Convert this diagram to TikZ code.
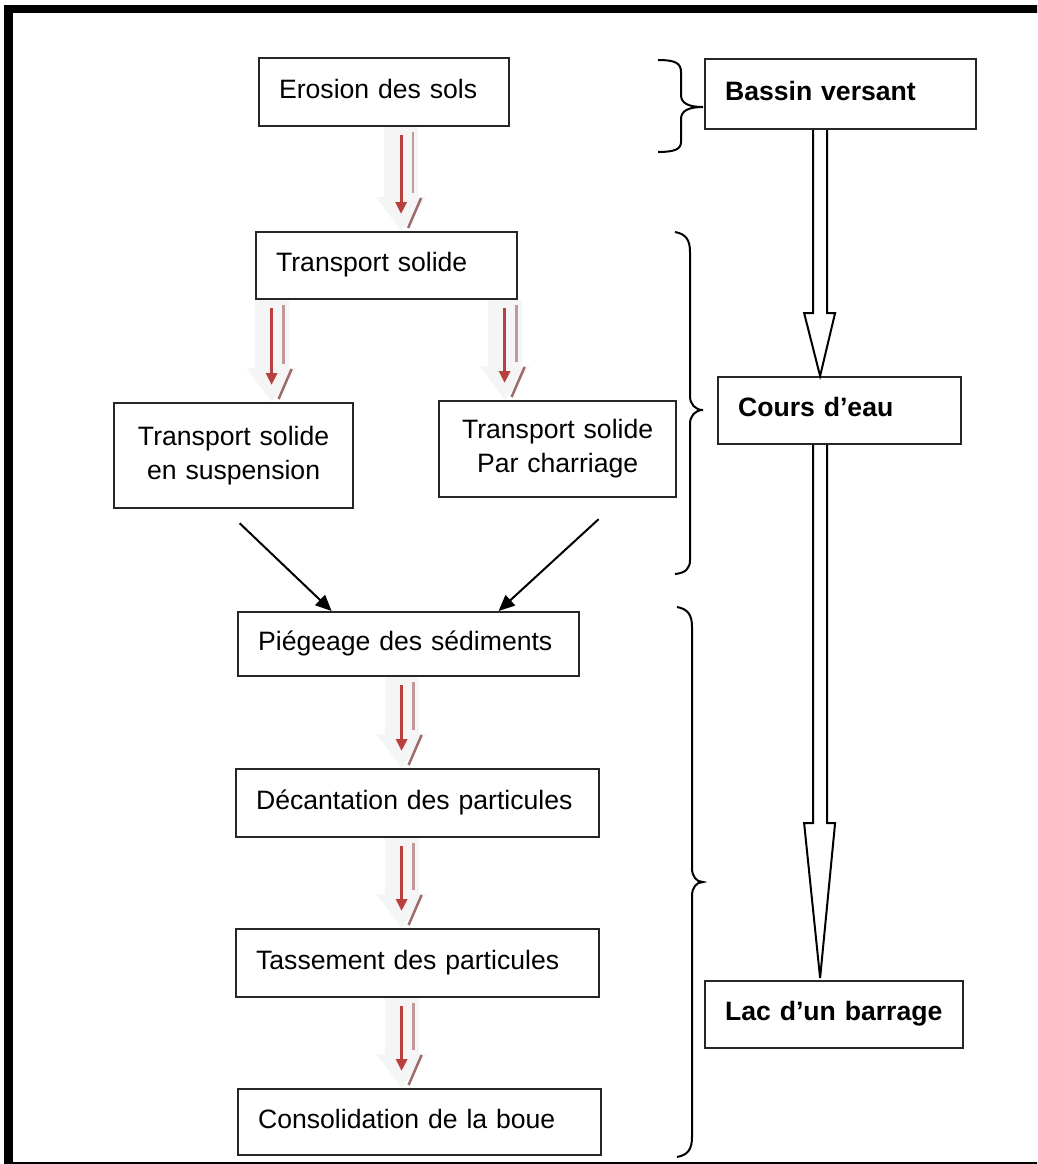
\documentclass[tikz,border=0pt]{standalone}
\usepackage{fontspec}
\setmainfont{Liberation Sans}
\usetikzlibrary{arrows.meta,calc,decorations.markings}
\definecolor{redc}{HTML}{B8413E}
\definecolor{pinkc}{HTML}{C09A9A}
\definecolor{diagc}{HTML}{9E6B6B}
\tikzset{
  box/.style={draw=black!85, line width=2.2pt, anchor=north west, inner xsep=20pt, inner ysep=0pt, align=left, text height=20pt, text depth=8pt},
  cbox/.style={box, align=center, text height={}, text depth={}},
  bbox/.style={box, font=\fontsize{26.6}{34}\selectfont\bfseries},
  redflow/.style={
    preaction={draw=black!4, line width=34pt, shorten <=0pt, shorten >=0pt, -{Triangle[length=34pt,width=48pt]}},
    draw=redc, line width=3pt, shorten <=8pt, shorten >=17pt, -{Triangle[length=12pt,width=11pt]},
    postaction={draw=pinkc, line width=2.5pt, -, shorten <=5pt, shorten >=38pt, transform canvas={xshift=12pt}},
    postaction={-, decorate, decoration={markings, mark=at position 1 with {\draw[diagc, line width=2.5pt, -, shorten <=0pt, shorten >=0pt] (-3pt,7pt) -- (-33pt,20pt);}}}
  },
  blackarr/.style={draw=black, line width=2pt, -{Triangle[length=16pt,width=14pt]}},
  hollow/.style={draw=black, line width=2pt, fill=white, line join=miter},
  bracel/.style={draw=black, line width=2pt}
}
\begin{document}
\begin{tikzpicture}[x=1pt, y=1pt, font=\fontsize{26.6}{34}\selectfont]
\useasboundingbox (0,0) rectangle (1037,-1164);
\clip (0,0) rectangle (1037,-1164);
\fill[white] (0,0) rectangle (1037,-1164);
\draw[line width=8.5pt] (8.5,-9) rectangle (1060,-1166);

% left column
\node[box, text width=210pt, minimum height=68pt] (n1) at (258,-57) {Erosion des sols};
\node[box, text width=221pt, minimum height=67pt] (n2) at (255,-231) {Transport solide};
\node[cbox, text width=199pt, minimum height=105pt] (n3) at (113,-402) {Transport solide\\en suspension};
\node[cbox, text width=197pt, minimum height=96pt] (n4) at (438,-400) {Transport solide\\Par charriage};
\node[box, text width=301pt, minimum height=64pt] (n5) at (237,-611) {Piégeage des sédiments};
\node[box, text width=323pt, minimum height=68pt] (n6) at (235,-768) {Décantation des particules};
\node[box, text width=323pt, minimum height=68pt] (n7) at (235,-928) {Tassement des particules};
\node[box, text width=323pt, minimum height=66pt] (n8) at (237,-1088) {Consolidation de la boue};

% right column
\node[bbox, text width=231pt, minimum height=70pt] (r1) at (704,-58) {Bassin versant};
\node[bbox, text width=203pt, minimum height=67pt] (r2) at (717,-376) {Cours d’eau};
\node[bbox, text width=218pt, minimum height=67pt] (r3) at (704,-980) {Lac d’un barrage};

% red flow arrows
\path[redflow] ([xshift=17pt]n1.south) -- ([xshift=17pt]n1.south |- n2.north);
\path[redflow] ([xshift=38pt]n3.north |- n2.south) -- ([xshift=38pt]n3.north);
\path[redflow] ([xshift=-53pt]n4.north |- n2.south) -- ([xshift=-53pt]n4.north);
\path[redflow] ([xshift=-7pt]n5.south) -- ([xshift=-7pt]n5.south |- n6.north);
\path[redflow] ([xshift=-16pt]n6.south) -- ([xshift=-16pt]n7.north);
\path[redflow] ([xshift=-16pt]n7.south) -- ([xshift=-16pt]n7.south |- n8.north);

% black arrows
\coordinate (s3) at ([yshift=-14pt,xshift=6pt]n3.south);
\coordinate (s4) at ([yshift=-21pt,xshift=41pt]n4.south);
\draw[blackarr] (s3) -- ([xshift=-77pt]n5.north);
\draw[blackarr] (s4) -- ([xshift=90pt]n5.north);

% hollow arrows on the right
\coordinate (a1) at ([xshift=-20.5pt]r1.south);
\coordinate (h1) at (0,-313);
\coordinate (a2) at (a1 |- r2.south);
\coordinate (h2) at (0,-823);
\draw[hollow] ($(a1)+(-7,0)$) -- ($(a1|-h1)+(-7,0)$) -- ($(a1|-h1)+(-16,0)$) -- (a1|-r2.north)
  -- ($(a1|-h1)+(15,0)$) -- ($(a1|-h1)+(7,0)$) -- ($(a1)+(7,0)$);
\draw[hollow] ($(a2)+(-7,0)$) -- ($(a2|-h2)+(-7,0)$) -- ($(a2|-h2)+(-16,0)$) -- ($(a2|-r3.north)+(0,2)$)
  -- ($(a2|-h2)+(15,0)$) -- ($(a2|-h2)+(7,0)$) -- ($(a2)+(7,0)$);

% braces
\draw[bracel] (658,-60) .. controls (675,-60) and (681,-63) .. (681,-72) -- (681,-95)
  .. controls (681,-103) and (688,-107) .. (703,-107)
  .. controls (688,-107) and (681,-111) .. (681,-119) -- (681,-142)
  .. controls (681,-149) and (675,-152) .. (658,-152);
\draw[bracel] (675,-232) .. controls (686,-234) and (690,-240) .. (690,-252) -- (690,-396)
  .. controls (690,-404) and (695,-410) .. (703,-410)
  .. controls (695,-410) and (690,-416) .. (690,-424) -- (690,-560)
  .. controls (690,-568) and (686,-573) .. (675,-574);
\draw[bracel] (677,-607) .. controls (688,-609) and (692,-615) .. (692,-627) -- (692,-868)
  .. controls (692,-876) and (696,-882) .. (703,-882)
  .. controls (696,-882) and (692,-888) .. (692,-896) -- (692,-1137)
  .. controls (692,-1149) and (688,-1155) .. (677,-1157);
\end{tikzpicture}
\end{document}
